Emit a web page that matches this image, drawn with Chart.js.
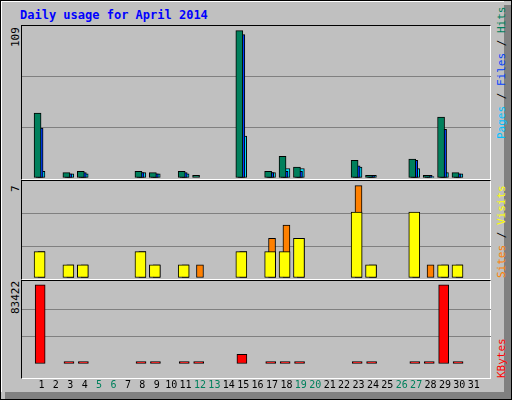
<!DOCTYPE html>
<html><head><meta charset="utf-8">
<script src="https://cdn.jsdelivr.net/npm/chart.js@4.4.1/dist/chart.umd.min.js"></script>
<style>
body{margin:0;background:#fff}
#wrap{position:relative;width:510px;height:398px;border:1px solid #000;background:#c0c0c0;overflow:hidden;font-family:"DejaVu Sans Mono",monospace}
#shadowR{position:absolute;left:503px;top:4px;width:7px;height:394px;background:#808080}
#shadowB{position:absolute;left:4px;top:391px;width:506px;height:7px;background:#808080}
#inner{position:absolute;left:0;top:0;width:503px;height:391px;border-top:1px solid #fff;border-left:1px solid #fff;box-sizing:border-box}
.panel{position:absolute;left:20px;width:470px;border-top:1px solid #000;border-left:1px solid #000;border-bottom:1px solid #fff;border-right:1px solid #fff;box-sizing:border-box}
canvas{position:absolute}
.rot{position:absolute;transform-origin:0 0;transform:rotate(-90deg);white-space:nowrap;font-size:11px;line-height:11px}
#title{position:absolute;left:19px;top:7px;color:#0000ff;font-weight:bold;font-size:12px}
</style></head><body>
<div id="wrap">
<div id="shadowR"></div><div id="shadowB"></div><div id="inner"></div>
<div id="title">Daily usage for April 2014</div>
<div class="panel" style="top:24px;height:155px"></div>
<div class="panel" style="top:179px;height:100px"></div>
<div class="panel" style="top:279px;height:99px"></div>
<div class="rot" style="left:9px;top:46px;color:#000">109</div>
<div class="rot" style="left:9px;top:191px;color:#000">7</div>
<div class="rot" style="left:9px;top:313px;color:#000">83422</div>
<div class="rot" style="left:495px;top:138px"><span style="color:#00c0ff">Pages</span><span style="color:#000"> / </span><span style="color:#0040ff">Files</span><span style="color:#000"> / </span><span style="color:#00805c">Hits</span></div>
<div class="rot" style="left:495px;top:277px"><span style="color:#ff8000">Sites</span><span style="color:#000"> / </span><span style="color:#ffff00">Visits</span></div>
<div class="rot" style="left:495px;top:377px;color:#ff0000">KBytes</div>
<canvas id="c1" style="left:21px;top:25px;width:469px;height:152px"></canvas>
<canvas id="c2" style="left:21px;top:181px;width:469px;height:96px"></canvas>
<canvas id="c3" style="left:21px;top:281px;width:469px;height:116px"></canvas>
</div>
<script>
const days=[1,2,3,4,5,6,7,8,9,10,11,12,13,14,15,16,17,18,19,20,21,22,23,24,25,26,27,28,29,30,31];
const weekend=[5,6,12,13,19,20,26,27];
const hits  =[48,0,4,5,0,0,0,5,4,0,5,2,0,0,109,0,5,16,8,0,0,0,13,2,0,0,14,2,45,4,0];
const files =[37,0,3,4,0,0,0,4,3,0,4,0,0,0,106,0,4,5,5,0,0,0,9,2,0,0,13,2,36,3,0];
const pages =[5,0,3,3,0,0,0,4,3,0,3,0,0,0,31,0,4,7,7,0,0,0,8,2,0,0,7,1,4,3,0];
const visits=[2,0,1,1,0,0,0,2,1,0,1,0,0,0,2,0,2,2,3,0,0,0,5,1,0,0,5,0,1,1,0];
const sites =[2,0,1,1,0,0,0,2,1,0,1,1,0,0,2,0,3,4,3,0,0,0,7,1,0,0,3,1,1,1,0];
const kbytes=[83422,0,2500,2500,0,0,0,2500,2500,0,2500,2500,0,0,10300,0,2500,2500,2500,0,0,0,2500,2500,0,0,2500,2500,83422,2500,0];

Chart.defaults.animation=false;
Chart.defaults.font.family='"DejaVu Sans Mono", monospace';
// shift is in day units, so overlapping bars sit side by side like the original
const pts=(arr,shift)=>arr.map((v,i)=>({x:days[i]+shift,y:v||null}));
function ds(arr,color,shift,w){return{data:pts(arr,shift),backgroundColor:color,borderColor:'#000',borderWidth:1,borderSkipped:false,barThickness:w,grouped:false}}
function opts(max,showX){
  return{responsive:false,maintainAspectRatio:false,layout:{padding:0},
    plugins:{legend:{display:false},tooltip:{enabled:false}},
    scales:{
      x:{type:'linear',min:0.175,max:31.67,display:showX,
        afterBuildTicks:a=>{a.ticks=days.map(v=>({value:v}))},
        grid:{display:false},border:{display:false},
        ticks:{padding:7,autoSkip:false,maxRotation:0,font:{size:10},
          color:c=>weekend.includes(c.tick.value)?'#00805c':'#000'}},
      y:{min:0,max:max,afterBuildTicks:a=>{a.ticks=[0,max/3,2*max/3,max].map(v=>({value:v}))},
        ticks:{display:false},border:{display:false},
        grid:{drawTicks:false,lineWidth:1,color:c=>(c.index===1||c.index===2)?'#808080':'rgba(0,0,0,0)'}}
    }};
}
function mk(id,h,datasets,max,showX){
  const cv=document.getElementById(id);cv.width=469;cv.height=h;
  return new Chart(cv,{type:'bar',data:{datasets},options:opts(max,showX)});
}
mk('c1',152,[ds(hits,'#00805c',-0.27,7),ds(files,'#0040ff',-0.13,7),ds(pages,'#00e0ff',0,7)],112.4,false);
mk('c2',96,[ds(visits,'#ffff00',-0.13,11),ds(sites,'#ff8000',0,7)],7.27,false);
mk('c3',116,[ds(kbytes,'#ff0000',-0.09,10)],86420,true);
</script>
</body></html>
